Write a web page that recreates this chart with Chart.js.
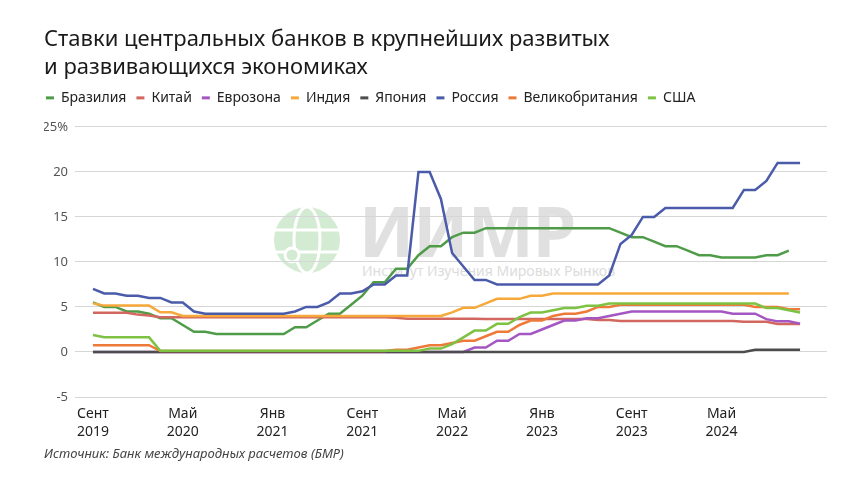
<!DOCTYPE html>
<html lang="ru">
<head>
<meta charset="utf-8">
<script src="https://cdn.jsdelivr.net/npm/chart.js@4.4.1/dist/chart.umd.min.js"></script>
<style>
  html, body { margin: 0; padding: 0; background: #fff; }
  #wrap { position: relative; width: 860px; height: 484px; }
  #mark { position: absolute; left: 0; top: 0; width: 860px; height: 484px; }
  #mark .big { position: absolute; left: 359px; top: 182px; font: bold 70px 'Noto Sans', sans-serif; color: #e0e0e0; letter-spacing: -1px; }
  #mark .small { position: absolute; left: 362px; top: 261px; font: 14px 'Noto Sans', sans-serif; color: #dcdcdc; }
  canvas { position: absolute; left: 0; top: 0; }
</style>
</head>
<body>
<div id="wrap">
  <div id="mark">
    <svg width="860" height="484" style="position:absolute;left:0;top:0">
      <circle cx="307" cy="240" r="33" fill="#d3ebd2"/>
      <ellipse cx="307" cy="240" rx="13" ry="33" fill="none" stroke="#fff" stroke-width="3"/>
      <line x1="274" y1="230" x2="340" y2="230" stroke="#fff" stroke-width="3"/>
      <line x1="276" y1="252" x2="338" y2="252" stroke="#fff" stroke-width="3"/>
      <circle cx="292" cy="255" r="7" fill="#d3ebd2" stroke="#fff" stroke-width="3"/>
    </svg>
    <div class="big">ИИМР</div>
    <div class="small">Институт Изучения Мировых Рынков</div>
  </div>
  <canvas id="chart" width="860" height="484"></canvas>
</div>
<script>
// month index 0 = сентябрь 2019, 63 = декабрь 2024
const tickPos = [0, 8, 16, 24, 32, 40, 48, 56]
const tickLabels = [['Сент', '2019'], ['Май', '2020'], ['Янв', '2021'], ['Сент', '2021'], ['Май', '2022'], ['Янв', '2023'], ['Сент', '2023'], ['Май', '2024']]

const brazil = [5.5, 5, 5, 4.5, 4.5, 4.25, 3.75, 3.75, 3, 2.25, 2.25, 2, 2, 2, 2, 2, 2, 2, 2.75, 2.75, 3.5, 4.25, 4.25, 5.25, 6.25, 7.75, 7.75, 9.25, 9.25, 10.75, 11.75, 11.75, 12.75, 13.25, 13.25, 13.75, 13.75, 13.75, 13.75, 13.75, 13.75, 13.75, 13.75, 13.75, 13.75, 13.75, 13.75, 13.25, 12.75, 12.75, 12.25, 11.75, 11.75, 11.25, 10.75, 10.75, 10.5, 10.5, 10.5, 10.5, 10.75, 10.75, 11.25]
const china = [4.35, 4.35, 4.35, 4.35, 4.15, 4.05, 3.85, 3.85, 3.85, 3.85, 3.85, 3.85, 3.85, 3.85, 3.85, 3.85, 3.85, 3.85, 3.85, 3.85, 3.85, 3.85, 3.85, 3.85, 3.85, 3.85, 3.85, 3.8, 3.7, 3.7, 3.7, 3.7, 3.7, 3.7, 3.7, 3.65, 3.65, 3.65, 3.65, 3.65, 3.65, 3.65, 3.65, 3.65, 3.65, 3.55, 3.55, 3.45, 3.45, 3.45, 3.45, 3.45, 3.45, 3.45, 3.45, 3.45, 3.45, 3.45, 3.35, 3.35, 3.35, 3.1, 3.1, 3.1]
const euro = [0, 0, 0, 0, 0, 0, 0, 0, 0, 0, 0, 0, 0, 0, 0, 0, 0, 0, 0, 0, 0, 0, 0, 0, 0, 0, 0, 0, 0, 0, 0, 0, 0, 0, 0.5, 0.5, 1.25, 1.25, 2, 2, 2.5, 3, 3.5, 3.5, 3.75, 3.75, 4, 4.25, 4.5, 4.5, 4.5, 4.5, 4.5, 4.5, 4.5, 4.5, 4.5, 4.25, 4.25, 4.25, 3.65, 3.4, 3.4, 3.15]
const india = [5.4, 5.15, 5.15, 5.15, 5.15, 5.15, 4.4, 4.4, 4, 4, 4, 4, 4, 4, 4, 4, 4, 4, 4, 4, 4, 4, 4, 4, 4, 4, 4, 4, 4, 4, 4, 4, 4.4, 4.9, 4.9, 5.4, 5.9, 5.9, 5.9, 6.25, 6.25, 6.5, 6.5, 6.5, 6.5, 6.5, 6.5, 6.5, 6.5, 6.5, 6.5, 6.5, 6.5, 6.5, 6.5, 6.5, 6.5, 6.5, 6.5, 6.5, 6.5, 6.5, 6.5]
const japan = [0, 0, 0, 0, 0, 0, 0, 0, 0, 0, 0, 0, 0, 0, 0, 0, 0, 0, 0, 0, 0, 0, 0, 0, 0, 0, 0, 0, 0, 0, 0, 0, 0, 0, 0, 0, 0, 0, 0, 0, 0, 0, 0, 0, 0, 0, 0, 0, 0, 0, 0, 0, 0, 0, 0, 0, 0, 0, 0, 0.25, 0.25, 0.25, 0.25, 0.25]
const russia = [7, 6.5, 6.5, 6.25, 6.25, 6, 6, 5.5, 5.5, 4.5, 4.25, 4.25, 4.25, 4.25, 4.25, 4.25, 4.25, 4.25, 4.5, 5, 5, 5.5, 6.5, 6.5, 6.75, 7.5, 7.5, 8.5, 8.5, 20, 20, 17, 11, 9.5, 8, 8, 7.5, 7.5, 7.5, 7.5, 7.5, 7.5, 7.5, 7.5, 7.5, 7.5, 8.5, 12, 13, 15, 15, 16, 16, 16, 16, 16, 16, 16, 18, 18, 19, 21, 21, 21]
const uk = [0.75, 0.75, 0.75, 0.75, 0.75, 0.75, 0.1, 0.1, 0.1, 0.1, 0.1, 0.1, 0.1, 0.1, 0.1, 0.1, 0.1, 0.1, 0.1, 0.1, 0.1, 0.1, 0.1, 0.1, 0.1, 0.1, 0.1, 0.25, 0.25, 0.5, 0.75, 0.75, 1, 1.25, 1.25, 1.75, 2.25, 2.25, 3, 3.5, 3.5, 4, 4.25, 4.25, 4.5, 5, 5, 5.25, 5.25, 5.25, 5.25, 5.25, 5.25, 5.25, 5.25, 5.25, 5.25, 5.25, 5.25, 5, 5, 5, 4.75, 4.75]
const usa = [1.875, 1.625, 1.625, 1.625, 1.625, 1.625, 0.125, 0.125, 0.125, 0.125, 0.125, 0.125, 0.125, 0.125, 0.125, 0.125, 0.125, 0.125, 0.125, 0.125, 0.125, 0.125, 0.125, 0.125, 0.125, 0.125, 0.125, 0.125, 0.125, 0.125, 0.375, 0.375, 0.875, 1.625, 2.375, 2.375, 3.125, 3.125, 3.875, 4.375, 4.375, 4.625, 4.875, 4.875, 5.125, 5.125, 5.375, 5.375, 5.375, 5.375, 5.375, 5.375, 5.375, 5.375, 5.375, 5.375, 5.375, 5.375, 5.375, 5.375, 4.875, 4.875, 4.625, 4.375]

const names = ['Бразилия', 'Китай', 'Еврозона', 'Индия', 'Япония', 'Россия', 'Великобритания', 'США']
const series = [brazil, china, euro, india, japan, russia, uk, usa]
const colors = ['#4f9c48', '#d2675f', '#a456c2', '#f6a93a', '#4d4d4d', '#4a5ba9', '#ee7a3a', '#7ec244']

const ctx = document.getElementById('chart')

const datasets = series.map((values, i) => ({
  label: names[i],
  data: values.map((v, m) => ({ x: m, y: v })),
  borderColor: colors[i],
  backgroundColor: colors[i],
  borderWidth: 2.5,
  pointRadius: 0,
  tension: 0,
  order: names.length - i
}))

// legend sits closer to the title and further left than chart.js puts it
const legendNudge = {
  id: 'legendNudge',
  afterLayout(chart) {
    const l = chart.legend
    l.left -= 8
    l.top -= 12
    l.bottom -= 12
  }
}

new Chart(ctx, {
  type: 'line',
  data: { datasets: datasets },
  plugins: [legendNudge],
  options: {
    responsive: false,
    animation: false,
    layout: { padding: { left: 44, right: 33, top: 26, bottom: 22 } },
    plugins: {
      title: {
        display: true,
        text: ['Ставки центральных банков в крупнейших развитых', 'и развивающихся экономиках'],
        align: 'start',
        color: '#1a1a1a',
        font: { family: "'Noto Sans', sans-serif", size: 22, weight: 'normal', lineHeight: 1.27 },
        padding: { top: 0, bottom: 11 }
      },
      legend: {
        align: 'start',
        labels: {
          boxWidth: 8,
          boxHeight: 3,
          padding: 10,
          color: '#222',
          font: { family: "'Noto Sans', sans-serif", size: 14 },
          sort: (a, b) => a.datasetIndex - b.datasetIndex,
          generateLabels: chart => Chart.defaults.plugins.legend.labels.generateLabels(chart)
            .map(l => Object.assign(l, { fillStyle: l.strokeStyle, lineWidth: 0 }))
        }
      },
      subtitle: {
        display: true,
        position: 'bottom',
        align: 'start',
        text: 'Источник: Банк международных расчетов (БМР)',
        color: '#444',
        font: { family: "'Noto Sans', sans-serif", size: 13, style: 'italic' },
        padding: { top: 5, bottom: 0 }
      },
      tooltip: { enabled: false }
    },
    scales: {
      x: {
        type: 'linear',
        min: -1.6,
        max: 65.4,
        grid: { display: false },
        border: { display: false },
        afterBuildTicks: axis => { axis.ticks = tickPos.map(v => ({ value: v })) },
        ticks: {
          autoSkip: false,
          maxRotation: 0,
          padding: 0,
          color: '#222',
          font: { family: "'Noto Sans', sans-serif", size: 14, lineHeight: 1.3 },
          callback: v => tickLabels[tickPos.indexOf(v)]
        }
      },
      y: {
        min: -5,
        max: 25,
        afterFit: axis => { axis.width = 31 },
        ticks: {
          stepSize: 5,
          padding: 7,
          color: '#555',
          font: { family: "'Noto Sans', sans-serif", size: 13 },
          callback: v => v === 25 ? '25%' : v
        },
        grid: { color: '#d6d6d6', drawTicks: false },
        border: { display: false }
      }
    }
  }
})
</script>
</body>
</html>
